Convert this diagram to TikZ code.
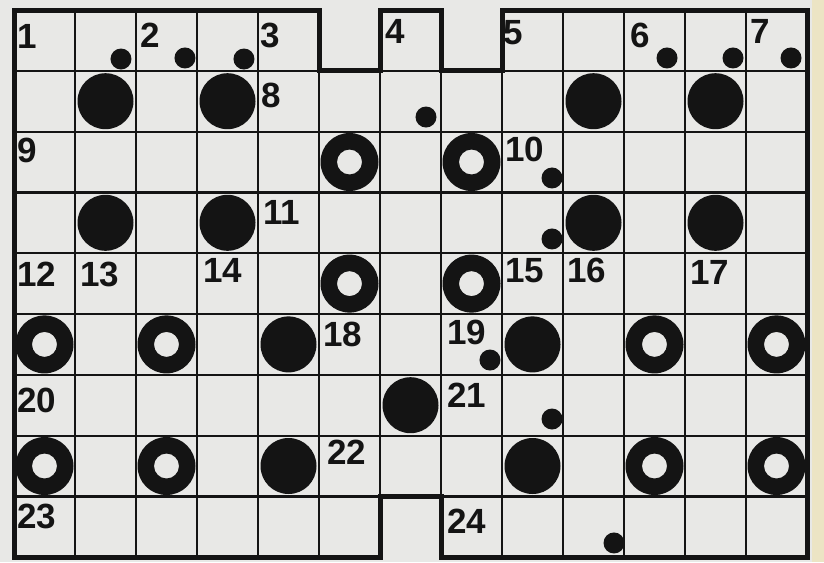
\documentclass[tikz,border=0pt]{standalone}
\usepackage{fontspec}
\setmainfont{Liberation Sans}
\definecolor{ink}{RGB}{20,20,20}
\definecolor{paper}{RGB}{232,232,230}
\definecolor{edgestrip}{RGB}{236,228,196}
\tikzset{
  gridline/.style={draw=ink, line width=2.2pt},
  border/.style={draw=ink, line width=5pt, line join=miter},
  lbl/.style={inner sep=0pt, anchor=north west, text=ink, font=\fontsize{35}{35}\selectfont\bfseries},
}
\newcommand{\bigdisc}[2]{\fill[ink] (#1,#2) circle[radius=28pt];}
\newcommand{\ringmark}[2]{\fill[ink,even odd rule] (#1,#2) circle[radius=29pt] circle[radius=12.5pt];}
\newcommand{\dotmark}[2]{\fill[ink] (#1,#2) circle[radius=10.5pt];}
\newcommand{\lab}[6]{\node[lbl,xshift=#4pt,yshift=-#5pt] (#1) at (#2,#3) {#6};}
\begin{document}
\begin{tikzpicture}[x=1pt,y=-1pt]
\fill[paper] (0,0) rectangle (824,562);
\fill[edgestrip] (812,0) rectangle (824,562);
\useasboundingbox (0,0) rectangle (824,562);
\begin{scope}[shift={(14,10)},x=61pt,y=-60.8pt]
  \begin{scope}
    \path[clip] (0,0) -- (5,0) -- (5,1) -- (6,1) -- (6,0) -- (7,0) -- (7,1) -- (8,1) -- (8,0) -- (13,0) -- (13,9) -- (7,9) -- (7,8) -- (6,8) -- (6,9) -- (0,9) -- cycle;
    \foreach \c in {1,...,12} {\draw[gridline] (\c,0) -- (\c,9);}
    \foreach \r in {1,...,8} {\draw[gridline] (0,\r) -- (13,\r);}
  \end{scope}
  \draw[border] (0,0) -- (5,0) -- (5,1) -- (6,1) -- (6,0) -- (7,0) -- (7,1) -- (8,1) -- (8,0) -- (13,0) -- (13,9) -- (7,9) -- (7,8) -- (6,8) -- (6,9) -- (0,9) -- cycle;
  % big discs
  \foreach \c/\r in {1/1,3/1,9/1,11/1,1/3,3/3,9/3,11/3,4/5,8/5,6/6,4/7,8/7}
    {\bigdisc{\c+0.5}{\r+0.5}}
  % rings
  \foreach \c/\r in {5/2,7/2,5/4,7/4,0/5,2/5,10/5,12/5,0/7,2/7,10/7,12/7}
    {\ringmark{\c+0.5}{\r+0.5}}
  % small dots
  \foreach \c/\r in {1.754/0.806,2.803/0.789,3.770/0.806,10.705/0.789,11.787/0.789,12.738/0.789,6.754/1.760,8.820/2.763,8.820/3.766,7.803/5.757,8.820/6.727,9.836/8.766}
    {\dotmark{\c}{\r}}
  % labels
  \lab{l1}{0}{0}{3}{14}{1}
  \lab{l2}{2}{0}{4}{13}{2}
  \lab{l3}{4}{0}{2}{13}{3}
  \lab{l4}{6}{0}{5}{9}{4}
  \lab{l5}{8}{0}{1}{10}{5}
  \lab{l6}{10}{0}{6}{13}{6}
  \lab{l7}{12}{0}{4}{9}{7}
  \lab{l8}{4}{1}{3}{12}{8}
  \lab{l9}{0}{2}{3}{6}{9}
  \lab{l10}{8}{2}{3}{5}{10}
  \lab{l11}{4}{3}{5}{8}{11}
  \lab{l12}{0}{4}{3}{9}{12}
  \lab{l13}{1}{4}{5}{9}{13}
  \lab{l14}{3}{4}{6}{5}{14}
  \lab{l15}{8}{4}{3}{5}{15}
  \lab{l16}{9}{4}{4}{5}{16}
  \lab{l17}{11}{4}{5}{7}{17}
  \lab{l18}{5}{5}{4}{8}{18}
  \lab{l19}{7}{5}{6}{6}{19}
  \lab{l20}{0}{6}{3}{13}{20}
  \lab{l21}{7}{6}{6}{8}{21}
  \lab{l22}{5}{7}{8}{4}{22}
  \lab{l23}{0}{8}{3}{7}{23}
  \lab{l24}{7}{8}{6}{12}{24}
\end{scope}
\end{tikzpicture}
\end{document}
